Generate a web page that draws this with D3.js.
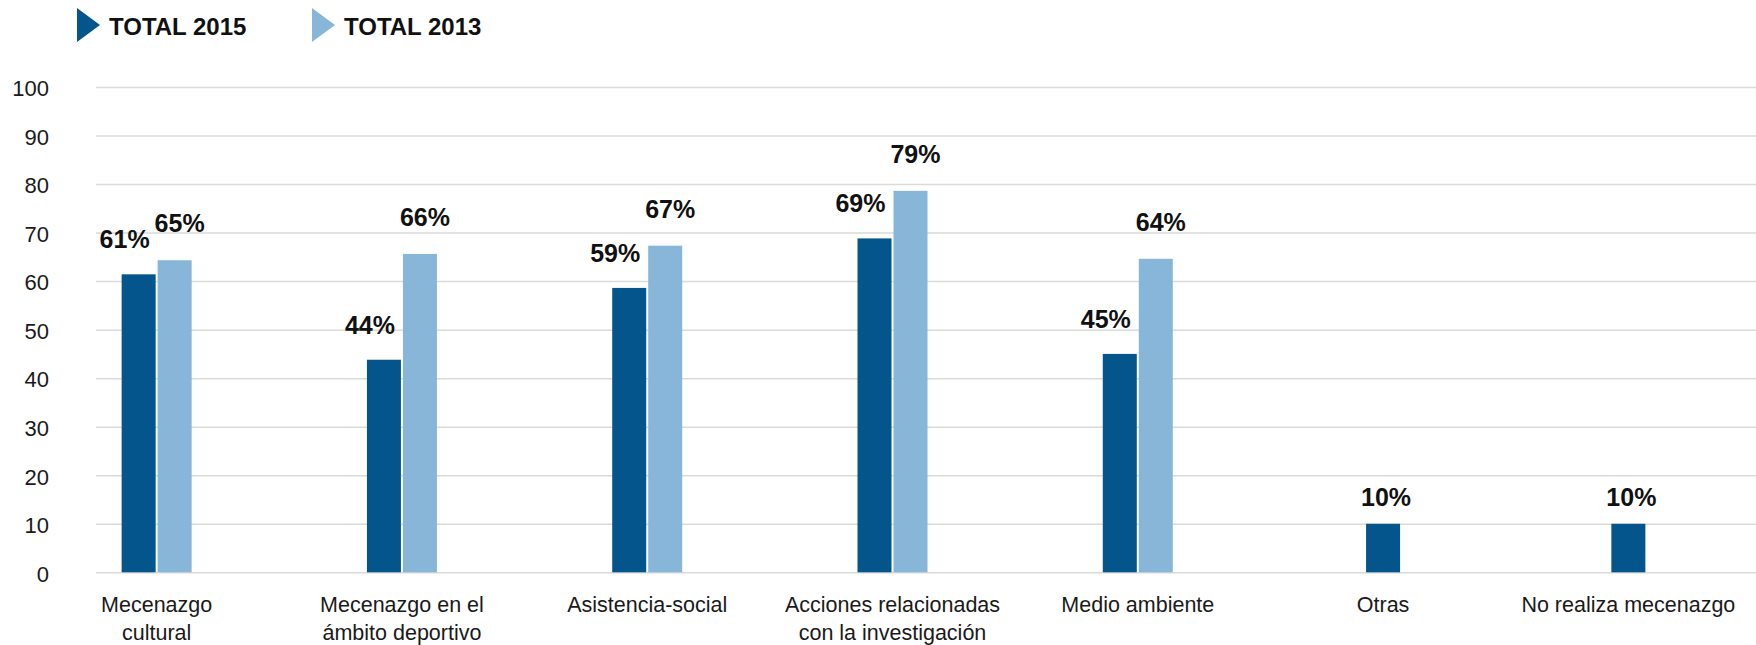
<!DOCTYPE html>
<html>
<head>
<meta charset="utf-8">
<script src="https://cdn.jsdelivr.net/npm/d3@7"></script>
<style>
  body { margin: 0; background: #fff; }
  svg { display: block; font-family: "Liberation Sans", Arial, sans-serif; }
</style>
</head>
<body>
<div id="chart"></div>
<script>
// categorías (líneas de la etiqueta)
const categories = [
    "Mecenazgo cultural",
    "Mecenazgo en el ámbito deportivo",
    "Asistencia-social",
    "Acciones relacionadas con la investigación",
    "Medio ambiente",
    "Otras",
    "No realiza mecenazgo"
];
const categoryLines = [
    ["Mecenazgo", "cultural"],
    ["Mecenazgo en el", "ámbito deportivo"],
    ["Asistencia-social"],
    ["Acciones relacionadas", "con la investigación"],
    ["Medio ambiente"],
    ["Otras"],
    ["No realiza mecenazgo"]
];
const seriesNames = ["TOTAL 2015", "TOTAL 2013"];
const values2015 = [61.4, 43.8, 58.6, 68.8, 45, 10, 10];
const values2013 = [64.3, 65.6, 67.3, 78.6, 64.6, null, null];
// textos de las etiquetas
const labels2015 = ["61%", "44%", "59%", "69%", "45%", "10%", "10%"];
const labels2013 = ["65%", "66%", "67%", "79%", "64%", null, null];
const yTicks = [0, 10, 20, 30, 40, 50, 60, 70, 80, 90, 100];

const colors = ["#03558b", "#87b6d8"];

const width = 1756, height = 645;
const svg = d3.select("#chart").append("svg")
    .attr("width", width)
    .attr("height", height);

// escalas
const x = d3.scaleBand()
    .domain(categories)
    .range([34, 1751])
    .padding(0);

const xSub = d3.scaleBand()
    .domain(seriesNames)
    .range([0, 70])
    .paddingInner(2 / 36);

const y = d3.scaleLinear()
    .domain([0, 100])
    .range([572.3, 87]);

const gridLeft = 96;

// eje y con líneas de cuadrícula
const yAxis = svg.append("g")
    .attr("transform", `translate(${gridLeft},0)`)
    .call(d3.axisLeft(y).tickValues(yTicks).tickSize(-(width - gridLeft)).tickPadding(47));
yAxis.select(".domain").remove();
yAxis.selectAll(".tick line")
    .attr("stroke", "#dadada")
    .attr("stroke-width", 1.5);
yAxis.selectAll(".tick text")
    .attr("fill", "#1a1a1a")
    .style("font-size", "22px")
    .attr("dy", "0.4em");

// datos por categoría
const rows = categories.map((c, i) => ({
    cat: c,
    v15: values2015[i], v13: values2013[i],
    l15: labels2015[i], l13: labels2013[i]
}));

const center = d => x(d.cat) + x.bandwidth() / 2;
const x15 = d => d.v13 == null
    ? center(d) - xSub.bandwidth() / 2
    : center(d) - 35 + xSub(seriesNames[0]);
const x13 = d => center(d) - 35 + xSub(seriesNames[1]);

// barras 2015
svg.selectAll(".bar-2015")
    .data(rows)
    .enter()
    .append("rect")
    .attr("class", "bar-2015")
    .attr("x", x15)
    .attr("y", d => y(d.v15))
    .attr("width", xSub.bandwidth())
    .attr("height", d => y(0) - y(d.v15))
    .attr("fill", colors[0]);

// barras 2013
svg.selectAll(".bar-2013")
    .data(rows.filter(d => d.v13 != null))
    .enter()
    .append("rect")
    .attr("class", "bar-2013")
    .attr("x", x13)
    .attr("y", d => y(d.v13))
    .attr("width", xSub.bandwidth())
    .attr("height", d => y(0) - y(d.v13))
    .attr("fill", colors[1]);

// etiquetas de porcentaje
svg.selectAll(".label-2015")
    .data(rows)
    .enter()
    .append("text")
    .attr("class", "label-2015")
    .attr("x", d => x15(d) + xSub.bandwidth() / 2 + (d.v13 == null ? 3 : -14))
    .attr("y", d => y(d.v15) - (d.v13 == null ? 18 : 26))
    .attr("text-anchor", "middle")
    .style("font-size", "25px")
    .style("font-weight", "bold")
    .attr("fill", "#111")
    .text(d => d.l15);

svg.selectAll(".label-2013")
    .data(rows.filter(d => d.v13 != null))
    .enter()
    .append("text")
    .attr("class", "label-2013")
    .attr("x", d => x13(d) + xSub.bandwidth() / 2 + 5)
    .attr("y", d => y(d.v13) - 28)
    .attr("text-anchor", "middle")
    .style("font-size", "25px")
    .style("font-weight", "bold")
    .attr("fill", "#111")
    .text(d => d.l13);

// eje x
const xAxis = svg.append("g")
    .attr("transform", `translate(0,${y(0)})`)
    .call(d3.axisBottom(x).tickSize(0));
xAxis.select(".domain").remove();
xAxis.selectAll(".tick text").each(function(d, i) {
    const t = d3.select(this);
    t.text(null)
        .attr("y", 40)
        .attr("dy", null)
        .attr("fill", "#1a1a1a")
        .style("font-size", "21.5px");
    categoryLines[i].forEach((line, k) => {
        t.append("tspan")
            .attr("x", 0)
            .attr("y", 40 + k * 28)
            .text(line);
    });
});

// leyenda
const legendX = [77, 312];
const legend = svg.selectAll(".legend")
    .data(seriesNames)
    .enter()
    .append("g")
    .attr("class", "legend")
    .attr("transform", (d, i) => `translate(${legendX[i]},8)`);
legend.append("path")
    .attr("d", "M0,0 L23,17 L0,34 Z")
    .attr("fill", (d, i) => colors[i]);
legend.append("text")
    .attr("x", 32)
    .attr("y", 27)
    .style("font-size", "24px")
    .style("font-weight", "bold")
    .attr("fill", "#111")
    .text(d => d);
</script>
</body>
</html>
